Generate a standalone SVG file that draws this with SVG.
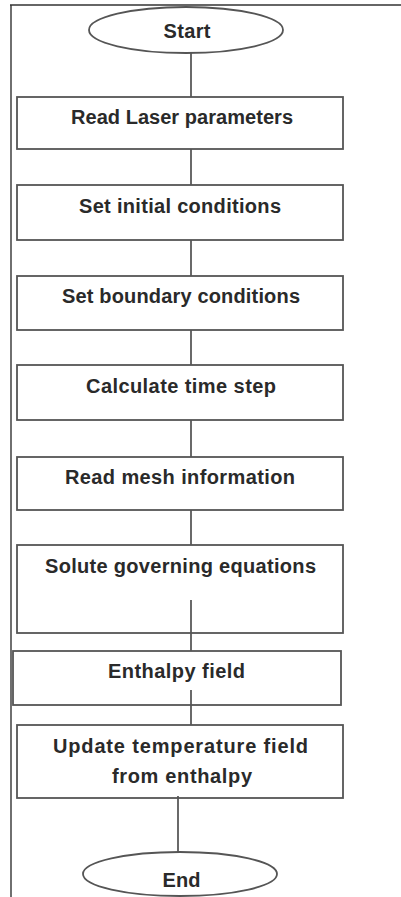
<svg xmlns="http://www.w3.org/2000/svg" width="401" height="897" viewBox="0 0 401 897">
<style>
.box{fill:#fff;stroke:#555;stroke-width:1.8}
.t{font-family:"Liberation Sans",Arial,sans-serif;font-weight:bold;font-size:20px;fill:#2a2a2a;text-anchor:middle}
.c{stroke:#444;stroke-width:1.6;fill:none}
.frame{stroke:#333;stroke-width:1.4;fill:none}
</style>
<rect width="401" height="897" fill="#fff"/>
<g id="frame">
<line class="frame" x1="10" y1="5" x2="401" y2="5" style="stroke:#666;stroke-width:2"/>
<line class="frame" x1="11" y1="5" x2="11" y2="897"/>
</g>
<g id="connectors">
<line class="c" x1="191" y1="53" x2="191" y2="97"/>
<line class="c" x1="191" y1="149" x2="191" y2="185"/>
<line class="c" x1="191" y1="240" x2="191" y2="276"/>
<line class="c" x1="191" y1="330" x2="191" y2="365"/>
<line class="c" x1="191" y1="420" x2="191" y2="457"/>
<line class="c" x1="191" y1="510" x2="191" y2="545"/>
<line class="c" x1="191" y1="600" x2="191" y2="651"/>
<line class="c" x1="191" y1="690" x2="191" y2="725"/>
<line class="c" x1="178" y1="796" x2="178" y2="852"/>
</g>
<g id="start">
<ellipse class="box" cx="186" cy="30" rx="97" ry="23"/>
<text class="t" x="187" y="38" textLength="47">Start</text>
</g>
<g id="n1">
<rect class="box" x="17" y="97" width="326" height="52"/>
<text class="t" x="182" y="124" textLength="222">Read Laser parameters</text>
</g>
<g id="n2">
<rect class="box" x="17" y="185" width="326" height="55"/>
<text class="t" x="180" y="213" textLength="202">Set initial conditions</text>
</g>
<g id="n3">
<rect class="box" x="17" y="276" width="326" height="54"/>
<text class="t" x="181" y="303" textLength="238">Set boundary conditions</text>
</g>
<g id="n4">
<rect class="box" x="17" y="365" width="326" height="55"/>
<text class="t" x="181" y="393" textLength="190">Calculate time step</text>
</g>
<g id="n5">
<rect class="box" x="17" y="457" width="326" height="53"/>
<text class="t" x="180" y="484" textLength="230">Read mesh information</text>
</g>
<g id="n6">
<rect class="box" x="17" y="545" width="326" height="88" style="fill:none"/>
<text class="t" x="180.5" y="573" textLength="271">Solute governing equations</text>
</g>
<g id="n7">
<rect class="box" x="13" y="651" width="328" height="54" style="fill:none"/>
<text class="t" x="176.5" y="678" textLength="137">Enthalpy field</text>
</g>
<g id="n8">
<rect class="box" x="17" y="725" width="326" height="73" style="fill:none"/>
<text class="t" x="180.5" y="753" textLength="255">Update temperature field</text>
<text class="t" x="182" y="783" textLength="140">from enthalpy</text>
</g>
<g id="end">
<ellipse class="box" cx="180" cy="874" rx="97" ry="22"/>
<text class="t" x="181.5" y="887">End</text>
</g>
</svg>
